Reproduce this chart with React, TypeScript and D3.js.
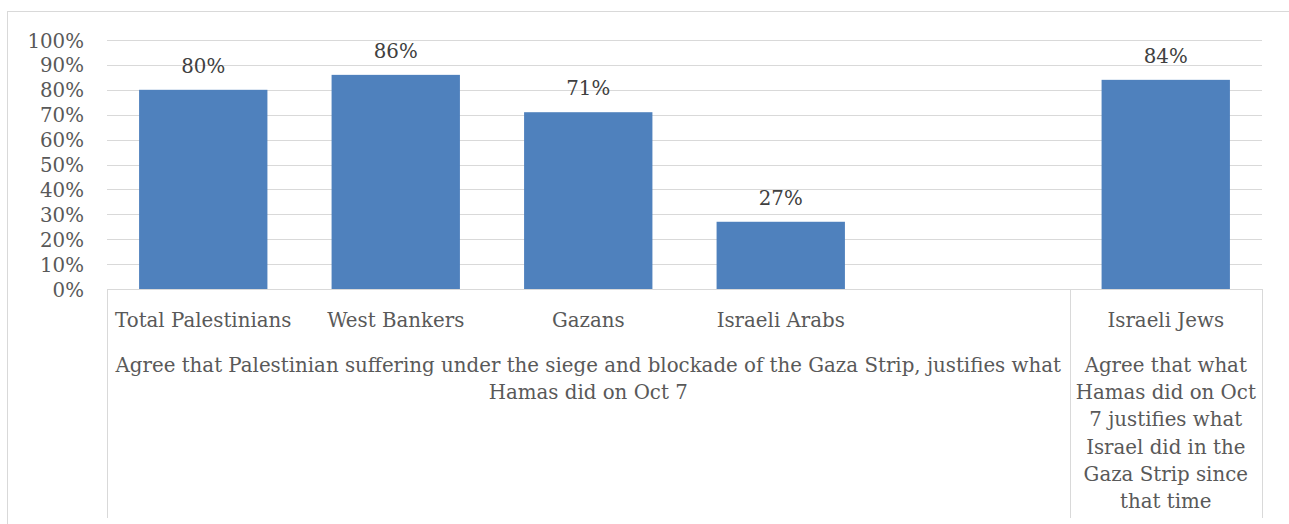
import React, { useEffect, useRef } from "react";
import * as d3 from "d3";

const categories = ["Total Palestinians", "West Bankers", "Gazans", "Israeli Arabs", "", "Israeli Jews"];
const values: (number | null)[] = [0.80, 0.86, 0.71, 0.27, null, 0.84];
const yTicks = [0, 0.1, 0.2, 0.3, 0.4, 0.5, 0.6, 0.7, 0.8, 0.9, 1.0];
const groups = [
  { start: 0, end: 4, lines: ["Agree that Palestinian suffering under the siege and blockade of the Gaza Strip, justifies what", "Hamas did on Oct 7"] },
  { start: 5, end: 5, lines: ["Agree that what", "Hamas did on Oct", "7 justifies what", "Israel did in the", "Gaza Strip since", "that time"] },
];

const W = 1289;
const H = 524;
const FONT = "'DejaVu Serif', serif";
const FS = 19.8;
const TXT = "#595959";
const GRID = "#D9D9D9";
const BAR = "#4F81BD";

export default function App() {
  const ref = useRef<SVGSVGElement>(null);
  useEffect(() => {
    const svg = d3.select(ref.current);
    svg.selectAll("*").remove();
    const x0 = 107, x1 = 1262, yTop = 40, yBot = 289;
    const x = d3.scaleBand<number>().domain(d3.range(categories.length)).range([x0, x1]).paddingInner(1 / 3).paddingOuter(1 / 6);
    const y = d3.scaleLinear().domain([0, 1]).range([yBot, yTop]);
    const step = x.step();
    const slotL = (i: number) => x0 + i * step;

    svg.append("rect").attr("x", 7.5).attr("y", 11.5).attr("width", W + 10).attr("height", H + 10)
      .attr("fill", "white").attr("stroke", GRID).attr("stroke-width", 1);

    svg.append("g").selectAll("line").data(yTicks.slice(1)).join("line")
      .attr("x1", x0).attr("x2", x1)
      .attr("y1", (d) => Math.round(y(d)) + 0.5).attr("y2", (d) => Math.round(y(d)) + 0.5)
      .attr("stroke", GRID).attr("stroke-width", 1);

    svg.append("g").selectAll("text").data(yTicks).join("text")
      .attr("x", 84).attr("y", (d) => y(d) + 7.5)
      .attr("text-anchor", "end").attr("font-family", FONT).attr("font-size", FS).attr("fill", TXT)
      .text((d) => d3.format(".0%")(d));

    const bd = values.map((v, i) => ({ v, i })).filter((d) => d.v !== null) as { v: number; i: number }[];
    svg.append("g").selectAll("rect").data(bd).join("rect")
      .attr("x", (d) => x(d.i)!).attr("width", x.bandwidth())
      .attr("y", (d) => y(d.v)).attr("height", (d) => yBot - y(d.v))
      .attr("fill", BAR);

    svg.append("g").selectAll("text").data(bd).join("text")
      .attr("x", (d) => x(d.i)! + x.bandwidth() / 2).attr("y", (d) => y(d.v) - 17)
      .attr("text-anchor", "middle").attr("font-family", FONT).attr("font-size", FS).attr("fill", "#404040")
      .text((d) => d3.format(".0%")(d.v));

    const ax = svg.append("g").attr("stroke", GRID).attr("stroke-width", 1);
    ax.append("line").attr("x1", x0).attr("x2", x1 + 0.5).attr("y1", yBot + 0.5).attr("y2", yBot + 0.5);
    const seps = [0, groups[1].start, categories.length];
    ax.selectAll("line.sep").data(seps).join("line").attr("class", "sep")
      .attr("x1", (d) => Math.round(slotL(d)) + 0.5).attr("x2", (d) => Math.round(slotL(d)) + 0.5)
      .attr("y1", yBot).attr("y2", 518);

    svg.append("g").selectAll("text").data(categories).join("text")
      .attr("x", (_, i) => x(i)! + x.bandwidth() / 2).attr("y", 327)
      .attr("text-anchor", "middle").attr("font-family", FONT).attr("font-size", FS).attr("fill", TXT)
      .text((d) => d);

    groups.forEach((g) => {
      const cx = (slotL(g.start) + slotL(g.end + 1)) / 2;
      svg.append("text").attr("text-anchor", "middle").attr("font-family", FONT).attr("font-size", FS).attr("fill", TXT)
        .selectAll("tspan").data(g.lines).join("tspan")
        .attr("x", cx).attr("y", (_, i) => 372 + i * 27.2)
        .text((d) => d);
    });
  }, []);
  return (
    <svg ref={ref} width={W} height={H} style={{ position: "absolute", left: 0, top: 0, background: "white" }} />
  );
}
